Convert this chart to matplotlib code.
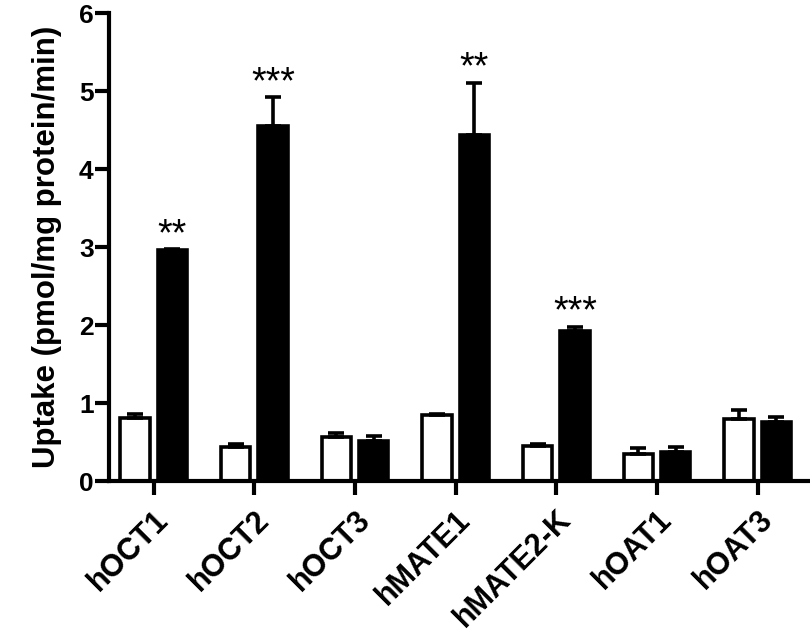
import matplotlib.pyplot as plt
import numpy as np

transporters = ['hOCT1', 'hOCT2', 'hOCT3', 'hMATE1', 'hMATE2-K', 'hOAT1', 'hOAT3']
control = [0.81, 0.44, 0.57, 0.845, 0.45, 0.35, 0.79]
control_err = [0.05, 0.03, 0.05, 0.01, 0.02, 0.07, 0.12]
treated = [2.96, 4.55, 0.51, 4.44, 1.93, 0.37, 0.76]
treated_err = [0.01, 0.37, 0.07, 0.67, 0.05, 0.06, 0.06]
stars = ['**', '***', '', '**', '***', '', '']


def main():
    plt.rcParams['font.family'] = ['Liberation Sans', 'DejaVu Sans']
    fig = plt.figure(figsize=(8.1, 6.34), dpi=100)
    ax = fig.add_axes([0.1346, 0.2413, 0.8654, 0.738])

    x = np.arange(len(transporters))
    w = 0.29
    off = 0.185
    lw = 2.6
    err_kw = dict(elinewidth=lw, capthick=lw, capsize=5.5, ecolor='black')

    ax.bar(x - off, control, w, color='white', edgecolor='black', linewidth=lw,
           yerr=[np.zeros(len(x)), control_err], error_kw=err_kw, zorder=2)
    ax.bar(x + off, treated, w, color='black', edgecolor='black', linewidth=lw,
           yerr=[np.zeros(len(x)), treated_err], error_kw=err_kw, zorder=2)

    # significance marks above the treated bars
    for xi, v, e, s in zip(x, treated, treated_err, stars):
        if s:
            ax.text(xi + off, v + e - 0.05, s, ha='center', va='bottom',
                    fontsize=27, color='black')

    ax.set_xlim(-0.443, 6.52)
    ax.set_ylim(0, 6)
    ax.set_yticks(range(7))
    ax.set_xticks(x)
    ax.set_xticklabels(transporters, rotation=45, ha='right',
                       rotation_mode='anchor', fontsize=22, fontweight='bold')
    ax.set_yticklabels([str(i) for i in range(7)], fontsize=19, fontweight='bold')
    ax.set_ylabel('Uptake (pmol/mg protein/min)', fontsize=22.5, fontweight='bold',
                  labelpad=12)

    ax.spines['top'].set_visible(False)
    ax.spines['right'].set_visible(False)
    ax.spines['left'].set_linewidth(3)
    ax.spines['bottom'].set_linewidth(3)
    ax.spines['left'].set_zorder(3)
    ax.spines['bottom'].set_zorder(3)
    ax.tick_params(axis='both', width=3, length=10, direction='out', pad=1)
    ax.tick_params(axis='x', pad=7)

    plt.savefig('out.png', dpi=100)


if __name__ == '__main__':
    main()
